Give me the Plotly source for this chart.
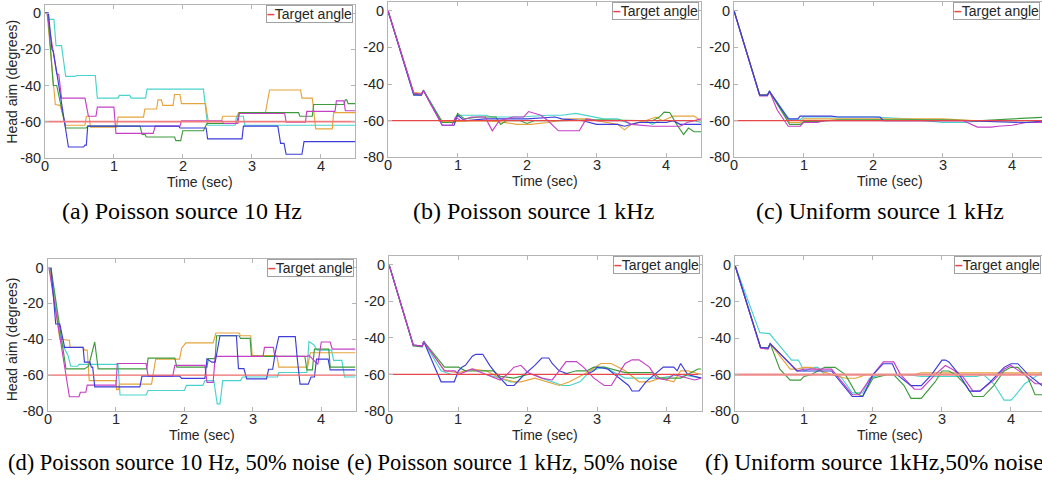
import plotly.graph_objects as go

W, H = 1042, 486

# ---------------- data ----------------
target_t = [0, 4.5]
target_y = [-60, -60]

# (a) Poisson source 10 Hz
a_cyan_t = [0, 0.04, 0.06, 0.13, 0.16, 0.24, 0.30, 0.44, 0.46, 0.73, 0.76, 1.06, 1.08, 1.23, 1.25, 1.46, 1.48, 2.30, 2.36, 2.76, 2.78, 2.88, 2.90, 4.5]
a_cyan_y = [0, 0, -3.5, -3.5, -18, -18, -35, -35, -34.5, -34.5, -47, -47, -45.5, -45.5, -47, -47, -42, -42, -62, -62, -57, -57, -62, -62]
a_orange_t = [0, 0.03, 0.15, 0.22, 0.30, 0.58, 0.60, 0.64, 0.66, 1.04, 1.06, 1.43, 1.45, 1.62, 1.64, 1.69, 1.71, 1.86, 1.88, 1.96, 1.98, 2.33, 2.37, 2.56, 2.58, 2.79, 2.81, 3.20, 3.26, 3.71, 3.73, 3.88, 3.93, 4.17, 4.19, 4.5]
a_orange_y = [0, 0, -50.5, -51, -62, -62, -57, -57, -63, -63, -57.5, -57.5, -53, -53, -48, -48, -51, -51, -45, -45, -50, -50, -60, -60, -57, -57, -55, -55, -42.5, -42.5, -47, -47, -64, -64, -55, -55]
a_blue_t = [0, 0.05, 0.10, 0.12, 0.20, 0.34, 0.56, 0.58, 0.60, 0.62, 1.94, 1.96, 2.34, 2.36, 2.86, 2.88, 3.38, 3.42, 3.47, 3.50, 3.73, 3.76, 4.5]
a_blue_y = [0, 0, -20, -21, -40, -74, -74, -73, -73, -62.5, -62.5, -63.5, -63.5, -69.5, -69.5, -62.5, -62.5, -72, -72, -78, -78, -71, -71]
a_green_t = [0, 0.04, 0.12, 0.17, 0.30, 0.60, 0.62, 1.38, 1.41, 1.45, 1.47, 1.88, 1.90, 1.97, 2.00, 2.30, 2.35, 2.78, 2.82, 3.68, 3.70, 3.88, 3.90, 4.34, 4.36, 4.38, 4.40, 4.5]
a_green_y = [0, 0, -40, -40, -63.5, -63.5, -62.5, -62.5, -67, -67, -68.5, -68.5, -70.5, -70.5, -65, -65, -61, -61, -55, -55, -57, -57, -50.5, -50.5, -48, -48, -50, -50]
a_magenta_t = [0, 0.03, 0.17, 0.20, 0.24, 0.58, 0.63, 0.74, 0.76, 1.00, 1.03, 1.57, 1.60, 1.96, 1.98, 2.57, 2.59, 2.80, 2.82, 3.48, 3.50, 3.78, 3.80, 4.21, 4.23, 4.34, 4.36, 4.5]
a_magenta_y = [0, 0, -33.5, -34, -47, -47, -57, -57, -52, -52, -66.5, -66.5, -62.5, -62.5, -59.5, -59.5, -61, -61, -55.5, -55.5, -60.3, -60.3, -54.3, -54.3, -48.5, -48.5, -54, -54]

# (b) Poisson source 1 kHz
b_green_t = [0, 0.37, 0.48, 0.51, 0.78, 0.95, 1.0, 1.1, 1.3, 1.55, 1.62, 1.7, 1.9, 2.0, 2.1, 2.5, 3.0, 3.5, 3.8, 3.9, 3.97, 4.05, 4.15, 4.25, 4.32, 4.4, 4.5]
b_green_y = [0, -45.5, -46, -43.5, -61, -61, -56, -59, -58, -58, -62, -60, -60, -61.5, -60, -60, -59.5, -60, -60, -58, -55.3, -55.5, -62, -67.5, -64, -66, -66]
b_magenta_t = [0, 0.37, 0.48, 0.51, 0.78, 0.92, 0.97, 1.05, 1.2, 1.4, 1.45, 1.5, 1.6, 1.8, 1.95, 2.02, 2.2, 2.3, 2.45, 2.75, 2.85, 3.0, 3.4, 3.5, 3.8, 4.2, 4.3, 4.5]
b_magenta_y = [0, -45, -45.5, -43.5, -62.5, -62.5, -58, -60, -58, -58, -62, -65.5, -60, -58, -58, -55, -57, -60, -65.5, -65.5, -59, -60, -60, -62, -63, -63, -61, -59]
b_orange_t = [0, 0.37, 0.48, 0.51, 0.62, 0.78, 0.95, 1.3, 1.6, 1.85, 2.05, 2.3, 2.6, 2.9, 3.0, 3.3, 3.4, 3.5, 3.7, 3.85, 3.95, 4.1, 4.4, 4.5]
b_orange_y = [0, -44.5, -45, -43.5, -51.5, -60.5, -60.5, -60, -60.5, -62, -62, -61, -59, -59, -60, -62, -65, -62, -60, -58, -60, -57.5, -57.5, -60]
b_cyan_t = [0, 0.37, 0.48, 0.51, 0.78, 0.95, 1.0, 1.4, 1.5, 1.9, 2.3, 2.5, 2.7, 2.95, 3.1, 3.3, 3.5, 3.7, 3.8, 3.9, 4.4, 4.5]
b_cyan_y = [0, -45, -45.5, -43.5, -60.5, -60.5, -57, -57, -58, -58, -57, -57, -56, -58, -59, -59, -62, -60, -62, -60, -60, -61]
b_blue_t = [0, 0.37, 0.48, 0.51, 0.78, 0.95, 1.0, 1.1, 1.4, 2.0, 2.4, 2.5, 2.8, 3.0, 3.3, 3.4, 3.6, 4.0, 4.1, 4.2, 4.5]
b_blue_y = [0, -46, -46, -43.5, -62.5, -62.5, -57, -60, -59, -59, -58, -59, -60, -62, -62, -63, -61, -61, -60, -62, -62]

# (c) Uniform source 1 kHz
c_blue_t = [0, 0.37, 0.48, 0.51, 0.78, 0.92, 0.95, 1.4, 1.5, 2.1, 2.15, 2.5, 3.3, 4.2, 4.5]
c_blue_y = [0, -46, -46, -44, -59, -59, -57.5, -57.5, -58, -58, -60, -60, -60, -61, -60]
c_green_t = [0, 0.37, 0.48, 0.51, 0.8, 0.95, 1.0, 1.2, 1.5, 2.0, 3.0, 3.5, 4.0, 4.4, 4.5]
c_green_y = [0, -46, -46, -44, -62, -62, -60.5, -60.5, -59.5, -59.5, -59.5, -60, -59, -58, -58]
c_orange_t = [0, 0.37, 0.48, 0.51, 0.8, 0.95, 1.0, 2.0, 2.5, 3.0, 3.5, 4.5]
c_orange_y = [0, -46, -46, -44, -61, -61, -59, -59, -59, -59, -60, -60]
c_cyan_t = [0, 0.37, 0.48, 0.51, 0.8, 0.95, 1.0, 2.0, 2.5, 3.0, 3.3, 3.6, 4.5]
c_cyan_y = [0, -46, -46, -44, -59.5, -59.5, -58, -58, -59, -61, -61, -60, -60]
c_magenta_t = [0, 0.37, 0.48, 0.51, 0.62, 0.78, 0.95, 1.0, 1.2, 1.3, 1.6, 2.0, 3.0, 3.3, 3.5, 3.7, 3.8, 4.0, 4.2, 4.5]
c_magenta_y = [0, -46.5, -46.5, -44, -54, -63, -63, -61, -61, -60, -60, -60, -60, -60, -63.5, -63.5, -63, -62.5, -61, -61]

# (d) Poisson source 10 Hz, 50% noise
d_orange_t = [0, 0.03, 0.18, 0.32, 0.33, 0.52, 0.54, 0.58, 0.61, 1.0, 1.01, 1.04, 1.05, 1.52, 1.58, 1.93, 1.96, 2.02, 2.42, 2.46, 2.8, 2.82, 2.97, 2.99, 3.35, 3.38, 3.8, 3.84, 4.5]
d_orange_y = [0, 0, -40, -40.5, -44.5, -44.5, -46, -46, -63, -63, -68, -68, -65, -65, -51, -51, -45, -42, -42, -36.5, -36.5, -38, -38, -49, -49, -55.5, -55.5, -47.5, -47.5]
d_green_t = [0, 0.05, 0.27, 0.54, 0.6, 0.69, 0.74, 1.45, 1.47, 1.86, 1.89, 2.33, 2.35, 2.45, 2.47, 2.8, 2.82, 2.96, 2.98, 3.76, 3.79, 3.87, 3.9, 4.11, 4.13, 4.5]
d_green_y = [0, 0, -56.5, -56.5, -55, -41.5, -56.5, -56.5, -50.5, -50.5, -55.5, -55.5, -50.8, -50.8, -38, -38, -39.5, -39.5, -49.5, -49.5, -57, -57, -45.5, -45.5, -55.5, -55.5]
d_magenta_t = [0, 0.02, 0.32, 0.46, 0.48, 0.56, 0.58, 1.0, 1.02, 1.44, 1.47, 1.83, 1.86, 2.3, 2.33, 2.42, 2.45, 3.15, 3.17, 3.3, 3.32, 3.79, 3.82, 3.95, 4.0, 4.13, 4.16, 4.5]
d_magenta_y = [0, 0, -72, -72, -69.5, -69.5, -65.5, -65.5, -53.5, -53.5, -60.5, -60.5, -54.5, -54.5, -64, -64, -49.5, -49.5, -44.5, -44.5, -49.5, -49.5, -49, -54, -41.5, -41.5, -45.5, -45.5]
d_blue_t = [0, 0.05, 0.12, 0.18, 0.25, 0.52, 0.54, 0.62, 0.64, 0.66, 0.69, 1.35, 1.38, 1.93, 1.96, 2.3, 2.33, 2.4, 2.45, 2.52, 2.76, 2.79, 2.87, 2.91, 3.2, 3.23, 3.29, 3.33, 3.38, 3.62, 3.65, 3.69, 3.81, 3.85, 3.9, 3.93, 4.1, 4.13, 4.5]
d_blue_y = [0, 0, -31.5, -31.5, -44.5, -44.5, -52.7, -52.7, -55.5, -55.5, -66.5, -66.5, -60.5, -60.5, -61.8, -61.8, -50.8, -52.7, -52.7, -38, -38, -56.3, -56.3, -62, -62, -56.7, -56.7, -47, -38.5, -38.5, -51, -65, -65, -61, -61, -51, -51, -57, -57]
d_cyan_t = [0, 0.04, 0.1, 0.2, 0.3, 0.34, 0.44, 0.46, 1.03, 1.06, 1.44, 1.47, 2.0, 2.03, 2.27, 2.3, 2.43, 2.48, 2.52, 2.56, 2.82, 2.85, 3.36, 3.38, 3.79, 3.82, 3.89, 3.94, 4.15, 4.18, 4.3, 4.34, 4.5]
d_cyan_y = [0, 0, -15, -41.5, -49, -55, -55, -54, -54, -71, -71, -68.5, -68.5, -65.7, -65.7, -63, -63, -76, -76, -63, -63, -61, -61, -58.5, -58.5, -41.3, -43, -46, -46, -51.7, -51.7, -61, -61]

# (e) Poisson source 1 kHz, 50% noise
e_blue_t = [0, 0.35, 0.48, 0.5, 0.75, 0.94, 1.0, 1.05, 1.1, 1.2, 1.25, 1.35, 1.45, 1.55, 1.7, 1.8, 1.95, 2.1, 2.2, 2.3, 2.35, 2.45, 2.6, 2.85, 2.95, 3.0, 3.15, 3.25, 3.45, 3.5, 3.6, 3.7, 3.9, 3.95, 4.1, 4.15, 4.2, 4.3, 4.5]
e_blue_y = [0, -44, -44.5, -42, -64, -64, -58, -56, -55, -50, -49, -49, -55, -60, -66, -66, -60, -55, -51, -51, -54, -58, -60, -60, -58, -56, -57, -60, -66, -69, -69, -64, -58, -56, -56, -58, -54, -60, -62]
e_magenta_t = [0, 0.35, 0.48, 0.5, 0.8, 0.95, 1.0, 1.2, 1.4, 1.6, 1.7, 1.8, 1.9, 2.0, 2.2, 2.35, 2.45, 2.55, 2.7, 2.8, 2.95, 3.1, 3.2, 3.3, 3.4, 3.5, 3.6, 3.75, 3.85, 4.0, 4.1, 4.4, 4.5]
e_magenta_y = [0, -44, -44.5, -42, -58, -58, -60, -57, -60, -63, -60, -56, -55, -59, -62, -63, -58, -53, -53, -56, -62, -66, -66, -60, -54, -52, -52, -56, -62, -63, -60, -63, -62]
e_green_t = [0, 0.35, 0.48, 0.5, 0.8, 1.0, 1.1, 1.5, 1.6, 1.8, 2.0, 2.5, 2.7, 2.85, 2.95, 3.1, 3.4, 3.8, 3.9, 4.2, 4.45, 4.5]
e_green_y = [0, -44.5, -45, -42, -56, -56, -58, -58, -61, -62, -60, -60, -58, -58, -56, -56, -59, -59, -62, -62, -57, -57]
e_orange_t = [0, 0.35, 0.48, 0.5, 0.8, 1.0, 1.2, 1.4, 1.6, 1.8, 1.9, 2.1, 2.45, 2.6, 2.9, 3.05, 3.2, 3.4, 3.6, 3.75, 3.9, 4.1, 4.2, 4.3, 4.5]
e_orange_y = [0, -44, -44.5, -42, -58, -59, -57, -58, -62, -64, -64, -62, -66, -64, -58, -54, -54, -58, -64, -64, -62, -64, -58, -58, -60]
e_cyan_t = [0, 0.35, 0.48, 0.5, 0.75, 0.9, 1.4, 1.6, 1.75, 1.85, 1.95, 2.1, 2.2, 2.5, 2.6, 2.75, 2.9, 3.1, 3.3, 3.4, 3.8, 3.9, 4.2, 4.5]
e_cyan_y = [0, -44, -44.5, -42, -58, -60, -60, -62, -64, -64, -60, -60, -62, -66, -66, -64, -58, -56, -60, -62, -62, -62, -60, -62]

# (f) Uniform source 1kHz, 50% noise
f_cyan_t = [0, 0.36, 0.5, 0.82, 0.92, 1.0, 1.15, 1.2, 1.3, 1.5, 1.55, 1.7, 1.85, 1.95, 2.1, 2.5, 2.7, 3.5, 3.6, 3.75, 3.9, 4.0, 4.05, 4.2, 4.4, 4.5]
f_cyan_y = [0, -37, -37.5, -52, -52, -58, -56, -56, -60, -60, -62, -70, -70, -62, -60, -60, -61, -61, -60, -65, -74, -74, -72, -65, -60, -57]
f_blue_t = [0, 0.37, 0.48, 0.51, 0.9, 1.0, 1.4, 1.7, 1.85, 2.0, 2.15, 2.28, 2.35, 2.55, 2.7, 2.85, 3.0, 3.05, 3.1, 3.25, 3.4, 3.55, 3.7, 3.9, 4.0, 4.1, 4.25, 4.45, 4.5]
f_blue_y = [0, -45, -45.5, -43, -58, -58, -58, -72, -72, -60, -54, -54, -60, -66, -66, -60, -52, -52, -53, -60, -69, -69, -64, -56, -54, -54, -60, -66, -63]
f_magenta_t = [0, 0.37, 0.48, 0.51, 0.9, 1.0, 1.4, 1.7, 1.8, 2.0, 2.15, 2.3, 2.4, 2.6, 2.7, 2.9, 3.05, 3.15, 3.3, 3.45, 3.55, 3.75, 3.9, 4.0, 4.2, 4.35, 4.5]
f_magenta_y = [0, -45.5, -46, -43, -58, -57, -57, -71, -71, -60, -53, -53, -60, -68, -68, -60, -55, -57, -61, -69, -69, -63, -57, -55, -60, -65, -65]
f_green_t = [0, 0.37, 0.48, 0.51, 0.65, 0.8, 0.95, 1.0, 1.1, 1.3, 1.45, 1.6, 1.75, 1.85, 2.0, 2.2, 2.3, 2.45, 2.55, 2.7, 2.9, 3.0, 3.1, 3.2, 3.35, 3.45, 3.6, 3.75, 3.9, 4.0, 4.1, 4.25, 4.35, 4.5]
f_green_y = [0, -45, -45.5, -43, -57, -63, -63, -61, -60, -56, -56, -60, -70, -72, -62, -60, -60, -66, -73, -73, -64, -58, -58, -60, -66, -72, -72, -66, -58, -56, -56, -62, -71, -71]
f_orange_t = [0, 0.37, 0.48, 0.51, 0.8, 0.9, 1.0, 1.1, 1.4, 1.6, 1.75, 1.9, 2.6, 2.7, 3.0, 4.5]
f_orange_y = [0, -45, -45.5, -43, -57, -57, -56, -56, -60, -62, -62, -60, -60, -59, -59, -59]

y_tickvals = [0, -20, -40, -60, -80]
y_ticktext = ["0", "-20", "-40", "-60", "-80"]
x_tickvals = [0, 1, 2, 3, 4]
x_ticktext = ["0", "1", "2", "3", "4"]

captions_top = ["(a) Poisson source 10 Hz", "(b) Poisson source 1 kHz", "(c) Uniform source 1 kHz"]
captions_bottom = ["(d) Poisson source 10 Hz, 50% noise", "(e) Poisson source 1 kHz, 50% noise",
                   "(f) Uniform source 1kHz,50% noise"]

# ---------------- styling ----------------
COL = {"blue": "#3d3dd9", "orange": "#e6a43c", "green": "#3d9b3d", "cyan": "#4ad3cb", "magenta": "#c640c6"}
RED = "#e8474a"
AX = "#b4b4b4"
TXT = "#262626"
SANS = "Liberation Sans, Arial, sans-serif"
SERIF = "Liberation Serif, Times New Roman, serif"


def px(x):
    return x / W


def py(y):
    return 1 - y / H


# panel geometry in pixels: left, right, top, bottom, xmax, ymax
panels = [
    (45, 355, 5, 160.5, 4.5, 4.5),
    (388, 701, 2, 160, 4.5, 4.8),
    (734, 1042, 2, 160, 4.43, 4.8),
    (47.5, 355.5, 263, 418, 4.5, 4.9),
    (389, 701.5, 260, 418, 4.5, 4.8),
    (735, 1042, 260, 418, 4.45, 5.2),
]

series = [
    [("cyan", a_cyan_t, a_cyan_y), ("orange", a_orange_t, a_orange_y), ("green", a_green_t, a_green_y),
     ("magenta", a_magenta_t, a_magenta_y), ("blue", a_blue_t, a_blue_y)],
    [("cyan", b_cyan_t, b_cyan_y), ("orange", b_orange_t, b_orange_y), ("green", b_green_t, b_green_y),
     ("blue", b_blue_t, b_blue_y), ("magenta", b_magenta_t, b_magenta_y)],
    [("cyan", c_cyan_t, c_cyan_y), ("orange", c_orange_t, c_orange_y), ("green", c_green_t, c_green_y),
     ("magenta", c_magenta_t, c_magenta_y), ("blue", c_blue_t, c_blue_y)],
    [("cyan", d_cyan_t, d_cyan_y), ("orange", d_orange_t, d_orange_y), ("green", d_green_t, d_green_y),
     ("magenta", d_magenta_t, d_magenta_y), ("blue", d_blue_t, d_blue_y)],
    [("cyan", e_cyan_t, e_cyan_y), ("orange", e_orange_t, e_orange_y), ("green", e_green_t, e_green_y),
     ("blue", e_blue_t, e_blue_y), ("magenta", e_magenta_t, e_magenta_y)],
    [("cyan", f_cyan_t, f_cyan_y), ("orange", f_orange_t, f_orange_y), ("green", f_green_t, f_green_y),
     ("magenta", f_magenta_t, f_magenta_y), ("blue", f_blue_t, f_blue_y)],
]
target_width = [1.6, 1.2, 1.2, 1.3, 1.2, 2.2]
target_color = ["#ee7c7c", RED, RED, "#ee6a6a", RED, "#ef8a8a"]

fig = go.Figure()
layout = dict(width=W, height=H, margin=dict(l=0, r=0, t=0, b=0), paper_bgcolor="white",
              plot_bgcolor="white", showlegend=False, annotations=[])

for i, (l, r, t, b, xmax, ymax) in enumerate(panels):
    k = "" if i == 0 else str(i + 1)
    xa, ya = "x" + k, "y" + k
    for name, tt, yy in series[i]:
        fig.add_trace(go.Scatter(x=tt, y=yy, mode="lines", xaxis=xa, yaxis=ya,
                                 line=dict(color=COL[name], width=1.15), hoverinfo="skip"))
    fig.add_trace(go.Scatter(x=target_t, y=target_y, mode="lines", xaxis=xa, yaxis=ya,
                             line=dict(color=target_color[i], width=target_width[i]), hoverinfo="skip"))
    clipped = i in (2, 5)
    layout["xaxis" + k] = dict(domain=[px(l), px(r)], anchor=ya, range=[0, xmax],
                               tickvals=x_tickvals, showticklabels=False, ticks="inside", ticklen=4,
                               tickcolor=AX, showline=True, linecolor=AX, linewidth=1, mirror="ticks",
                               showgrid=False, zeroline=False)
    layout["yaxis" + k] = dict(domain=[py(b), py(t)], anchor=xa, range=[-80, ymax],
                               tickvals=y_tickvals, ticktext=y_ticktext, ticks="inside", ticklen=4,
                               tickcolor=AX, showline=True, linecolor=AX, linewidth=1,
                               mirror=False if clipped else "ticks",
                               showgrid=False, zeroline=False, tickfont=dict(family=SANS, size=14.5, color=TXT))
    # x tick labels placed on the axis' own data scale, close to the axis like MATLAB
    for v, lab in zip(x_tickvals, x_ticktext):
        layout["annotations"].append(dict(x=v, xref=xa, y=py(b + 8), yref="paper", text=lab,
                                          showarrow=False, xanchor="center", yanchor="middle",
                                          font=dict(family=SANS, size=14.5, color=TXT)))
    # x axis title
    layout["annotations"].append(dict(x=2.25, xref=xa, y=py(b + 24.5), yref="paper",
                                      text="Time (sec)", showarrow=False, xanchor="center", yanchor="middle",
                                      font=dict(family=SANS, size=14, color=TXT)))
    # legend box
    leg = dict(y=py(t + 0.5), xref="paper", yref="paper", yanchor="top",
               text="<span style='color:%s;font-weight:bold'>–</span>Target angle" % RED, showarrow=False,
               font=dict(family=SANS, size=14, color=TXT), bgcolor="white",
               bordercolor="#a0a0a0", borderwidth=1, borderpad=0)
    if clipped:
        leg.update(x=px(l + 219), xanchor="left")
    else:
        leg.update(x=px(r - 2), xanchor="right")
    layout["annotations"].append(leg)

# y axis titles
for yc in (83, 345):
    layout["annotations"].append(dict(x=px(12), y=py(yc), xref="paper", yref="paper", text="Head aim (degrees)",
                                      textangle=-90, showarrow=False, xanchor="center", yanchor="middle",
                                      font=dict(family=SANS, size=14, color=TXT)))

# captions
for txt, xc in zip(captions_top, (181.5, 533, 880)):
    layout["annotations"].append(dict(x=px(xc), y=py(215), xref="paper", yref="paper", text=txt,
                                      showarrow=False, xanchor="center", yanchor="middle",
                                      font=dict(family=SERIF, size=24, color="black")))
for txt, xl, fs in zip(captions_bottom, (6, 345, 703), (22.5, 22.5, 23.5)):
    layout["annotations"].append(dict(x=px(xl), y=py(470), xref="paper", yref="paper", text=txt,
                                      showarrow=False, xanchor="left", yanchor="middle",
                                      font=dict(family=SERIF, size=fs, color="black")))

fig.update_layout(**layout)
fig.write_html("out.html", config={"displayModeBar": False},
               post_script="document.body.style.margin='0';document.body.style.overflow='hidden';")
